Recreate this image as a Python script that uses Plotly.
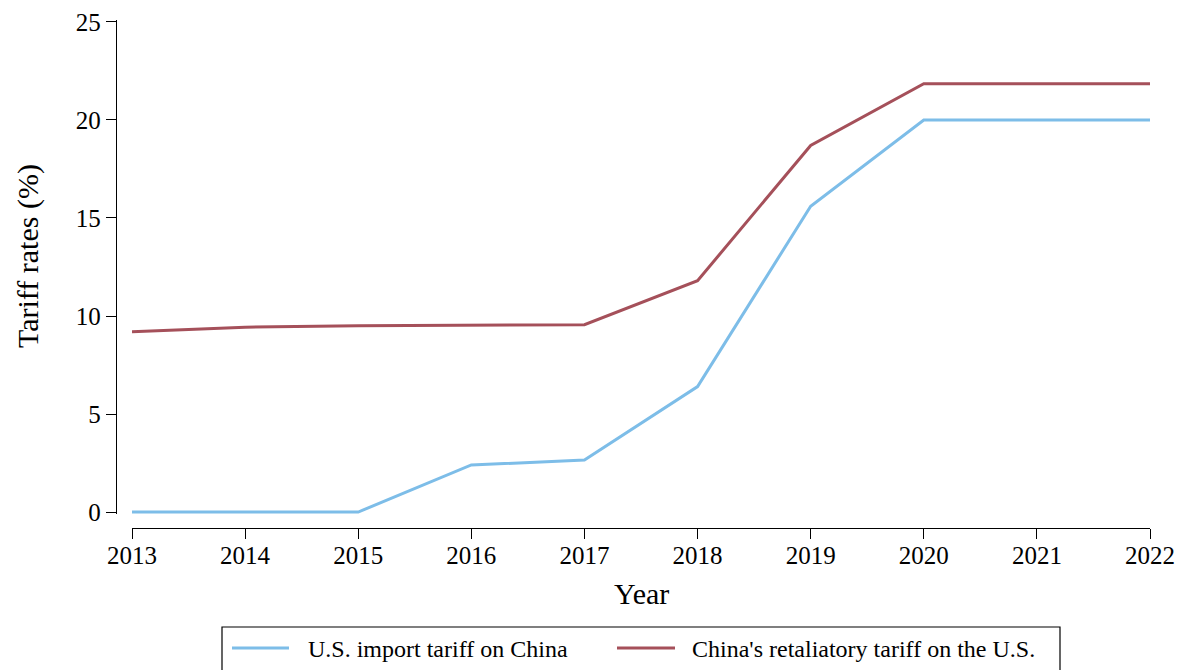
import plotly.graph_objects as go

years = [2013, 2014, 2015, 2016, 2017, 2018, 2019, 2020, 2021, 2022]
us_tariff = [0.0, 0.0, 0.0, 2.4, 2.65, 6.4, 15.6, 20.0, 20.0, 20.0]
china_tariff = [9.2, 9.43, 9.5, 9.52, 9.56, 11.8, 18.7, 21.85, 21.85, 21.85]
y_ticks = [0, 5, 10, 15, 20, 25]
series_names = ["U.S. import tariff on China", "China's retaliatory tariff on the U.S."]
series_colors = ["#7DBDE8", "#A5505A"]

# page has an 8px body margin; figure sized to fit the 1189x670 window
W, H = 1181, 662
OFF = 8
FONT = "Liberation Serif"


def px(x):
    return (x - OFF) / W


def py(y):
    return 1 - (y - OFF) / H


fig = go.Figure()
for name, vals, col in zip(series_names, [us_tariff, china_tariff], series_colors):
    fig.add_trace(go.Scatter(x=years, y=vals, mode="lines", name=name,
                             showlegend=False,
                             line=dict(color=col, width=3)))

# window-pixel geometry of the reference
x_left, x_right = 132, 1150
y_top, y_bot = 20, 514

fig.update_layout(
    width=W, height=H,
    margin=dict(l=0, r=0, t=0, b=0, autoexpand=False),
    paper_bgcolor="white", plot_bgcolor="white",
    font=dict(family=FONT, size=25, color="black"),
    showlegend=False,
    xaxis=dict(
        domain=[px(x_left), px(x_right)],
        range=[2013, 2022],
        anchor="free", position=py(528),
        tickvals=years, ticks="outside", ticklen=10, tickwidth=1.3,
        tickcolor="black", showline=True, linecolor="black", linewidth=1.3,
        showgrid=False, zeroline=False,
        tickfont=dict(size=25), ticklabelstandoff=-5,
    ),
    yaxis=dict(
        domain=[py(y_bot), py(y_top)],
        range=[-0.1, 25.1],
        anchor="free", position=px(116),
        tickvals=y_ticks, ticks="outside", ticklen=10, tickwidth=1.3,
        tickcolor="black", showline=True, linecolor="black", linewidth=1.3,
        showgrid=False, zeroline=False,
        tickfont=dict(size=25),
    ),
)

# axis titles
fig.add_annotation(text="Tariff rates (%)", xref="paper", yref="paper",
                   x=px(28), y=py(256), xanchor="center", yanchor="middle",
                   textangle=-90, showarrow=False, font=dict(size=30))
fig.add_annotation(text="Year", xref="paper", yref="paper",
                   x=px(642), y=py(593), xanchor="center", yanchor="middle",
                   showarrow=False, font=dict(size=30))

# legend box (bottom cut off by the page edge, as in the reference)
fig.add_shape(type="rect", xref="paper", yref="paper",
              x0=px(222), x1=px(1060), y0=py(700), y1=py(627),
              line=dict(color="black", width=1.2), fillcolor="rgba(0,0,0,0)")
legend_items = [(232, 289, 306), (617, 675, 690)]
for (s0, s1, tx), name, col in zip(legend_items, series_names, series_colors):
    fig.add_shape(type="line", xref="paper", yref="paper",
                  x0=px(s0), x1=px(s1), y0=py(648), y1=py(648),
                  line=dict(color=col, width=3))
    fig.add_annotation(text=name, xref="paper", yref="paper",
                       x=px(tx), y=py(649), xanchor="left", yanchor="middle",
                       showarrow=False, font=dict(size=24))

fig.write_html("out.html")
